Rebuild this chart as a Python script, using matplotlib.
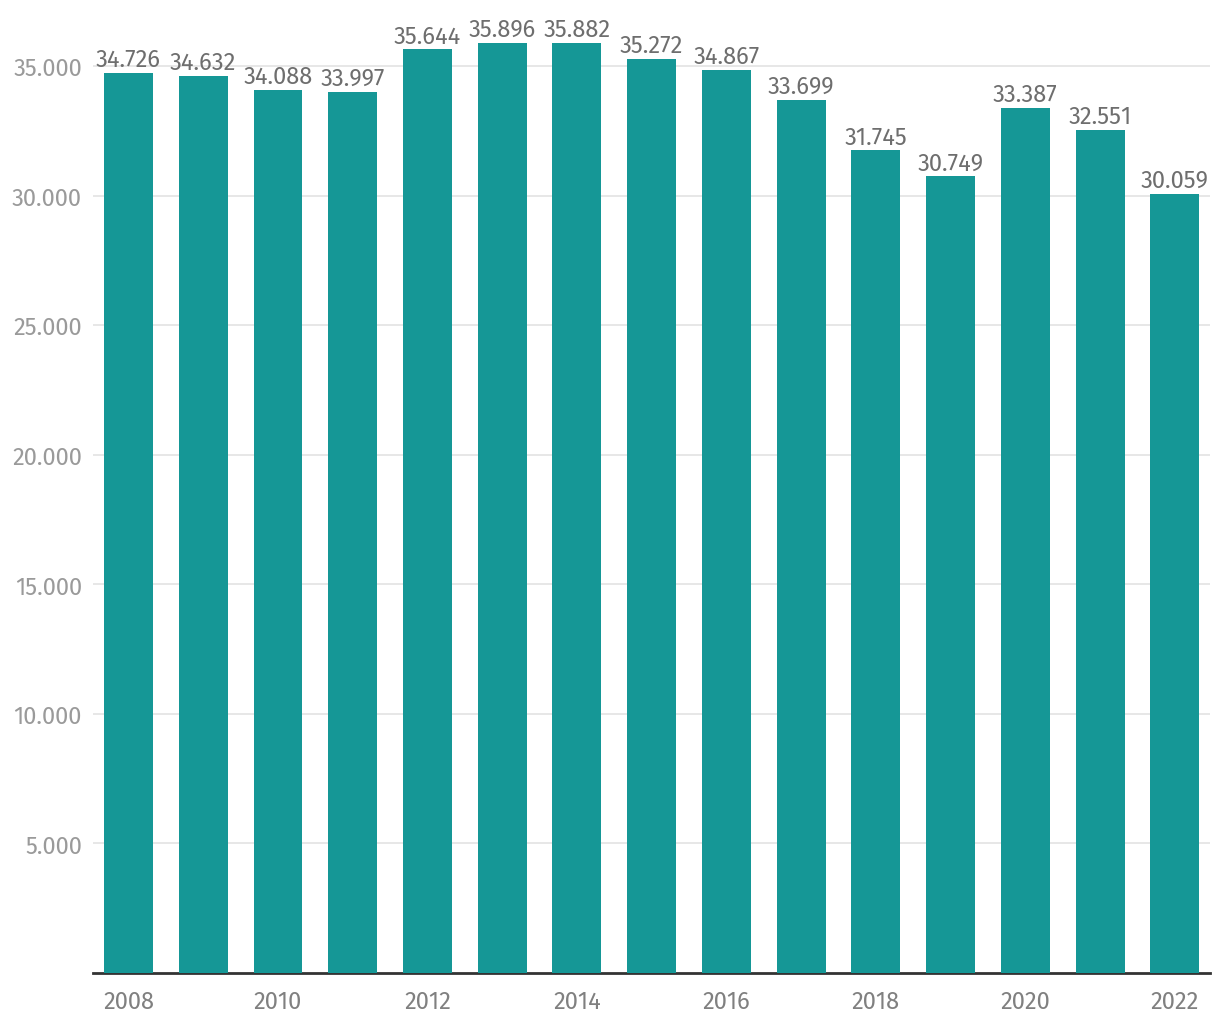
import matplotlib
matplotlib.use("Agg")
import matplotlib.pyplot as plt
from matplotlib.ticker import FuncFormatter

years = list(range(2008, 2023))
values = [34726, 34632, 34088, 33997, 35644, 35896, 35882, 35272, 34867,
          33699, 31745, 30749, 33387, 32551, 30059]
yticks = [5000, 10000, 15000, 20000, 25000, 30000, 35000]

def fmt(v):
    return f"{int(v):,}".replace(",", ".")

plt.rcParams['font.family'] = ['Fira Sans', 'Noto Sans', 'DejaVu Sans']

fig = plt.figure(figsize=(12.2, 10.2), dpi=100)
ax = fig.add_axes([93/1220, 1 - 974/1020, (1210-93)/1220, (974-20)/1020])

x = list(range(len(years)))
bars = ax.bar(x, values, width=0.655, color='#159796', zorder=3)
for xi, v in zip(x, values):
    ax.annotate(fmt(v), (xi, v), xytext=(0, 1.5), textcoords='offset points',
                ha='center', va='bottom', fontsize=17, color='#6e6e6e', zorder=4)

ax.set_xlim(-0.475, len(years) - 1 + 0.47)
ax.set_ylim(0, 36820)
ax.set_yticks(yticks)
ax.yaxis.set_major_formatter(FuncFormatter(lambda v, p: fmt(v)))
ax.set_xticks(x[::2])
ax.set_xticklabels([str(y) for y in years[::2]])
ax.grid(axis='y', color='#e3e3e3', linewidth=1.2, zorder=0)
for s in ['top', 'right', 'left']:
    ax.spines[s].set_visible(False)
ax.spines['bottom'].set_color('#333333')
ax.spines['bottom'].set_linewidth(2)
ax.tick_params(axis='y', length=0, pad=8, labelsize=17, labelcolor='#9a9a9a')
ax.tick_params(axis='x', length=0, pad=12, labelsize=17, labelcolor='#808080')

fig.savefig('out.png', dpi=100)
